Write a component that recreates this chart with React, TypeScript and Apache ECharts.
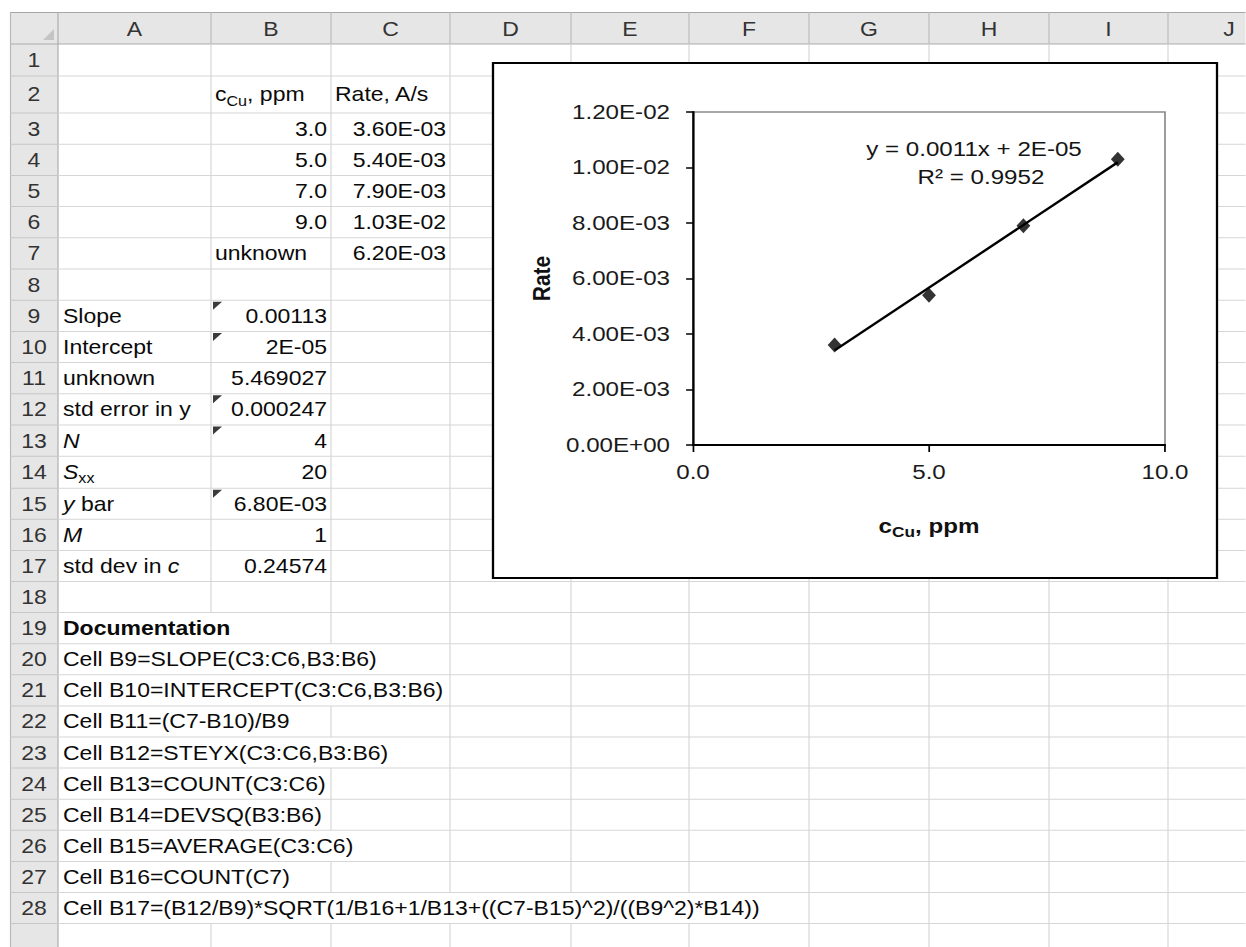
import React, { useEffect, useRef } from "react";
import * as echarts from "echarts";

// ---------- data ----------
const concentrationPpm = [3.0, 5.0, 7.0, 9.0];
const rateAperS = [0.0036, 0.0054, 0.0079, 0.0103];
const trendX = [3, 9];
const trendY = [0.00341, 0.01019];
const trendEquation = "y = 0.0011x + 2E-05";
const trendR2 = "R² = 0.9952";
const yMin = 0, yMax = 0.012, yStep = 0.002;
const xMin = 0, xMax = 10, xStep = 5;

const columnLetters = ["A", "B", "C", "D", "E", "F", "G", "H", "I", "J"];
const tableB = ["3.0", "5.0", "7.0", "9.0", "unknown"];
const tableC = ["3.60E-03", "5.40E-03", "7.90E-03", "1.03E-02", "6.20E-03"];
const statLabels = ["Slope", "Intercept", "unknown", "std error in y", "{i|N}", "{i|S}{s|xx}", "{i|y} bar", "{i|M}", "std dev in {i|c}"];
const statValues = ["0.00113", "2E-05", "5.469027", "0.000247", "4", "20", "6.80E-03", "1", "0.24574"];
const statFlagged = [true, true, false, true, true, false, true, false, false];
const docTitle = "Documentation";
const docLines = [
  "Cell B9=SLOPE(C3:C6,B3:B6)",
  "Cell B10=INTERCEPT(C3:C6,B3:B6)",
  "Cell B11=(C7-B10)/B9",
  "Cell B12=STEYX(C3:C6,B3:B6)",
  "Cell B13=COUNT(C3:C6)",
  "Cell B14=DEVSQ(B3:B6)",
  "Cell B15=AVERAGE(C3:C6)",
  "Cell B16=COUNT(C7)",
  "Cell B17=(B12/B9)*SQRT(1/B16+1/B13+((C7-B15)^2)/((B9^2)*B14))",
];

// ---------- layout ----------
const W = 1246, H = 947;
const S = 1.15; // horizontal stretch of the screenshot
const X = (x: number) => x / S;
const FONT = "'Liberation Sans', Arial, Helvetica, sans-serif";
const colEdges = [58, 211, 331, 450, 571, 689, 809, 929, 1049, 1168, 1290];
const rowHeights: number[] = [32, 37];
for (let i = 0; i < 11; i++) rowHeights.push(31.2);
rowHeights.push(32);
for (let i = 0; i < 15; i++) rowHeights.push(31.1);
const rowTops: number[] = [];
{
  let y = 44;
  for (const h of rowHeights) { rowTops.push(y); y += h; }
}
const rowTop = (r: number) => rowTops[r - 1];
const rowMid = (r: number) => rowTops[r - 1] + rowHeights[r - 1] / 2;
const rowBottom = (r: number) => rowTops[r - 1] + rowHeights[r - 1];

const sci = (v: number) => {
  const [m, e] = v.toExponential(2).split("e");
  const sign = e[0] === "-" ? "-" : "+";
  const d = e.replace(/[+-]/, "").padStart(2, "0");
  return `${m}E${sign}${d}`;
};

function buildOption() {
  const ctx = document.createElement("canvas").getContext("2d")!;
  const measure = (t: string, font: string) => { ctx.font = font; return ctx.measureText(t).width * S; };

  const els: any[] = [];
  const line = (x1: number, y1: number, x2: number, y2: number, stroke: string, lw = 1, z = -3) =>
    els.push({ type: "line", silent: true, z, shape: { x1: X(x1), y1, x2: X(x2), y2 }, style: { stroke, lineWidth: lw } });
  const rect = (x: number, y: number, w: number, h: number, fill: string, z = -4, extra: any = {}) =>
    els.push({ type: "rect", silent: true, z, shape: { x: X(x), y, width: w / S, height: h }, style: { fill, ...extra } });
  const rich = {
    i: { fontStyle: "italic", fontSize: 20, fontFamily: FONT, fill: "#0a0a0a", lineHeight: 26 },
    n: { fontSize: 20, fontFamily: FONT, fill: "#0a0a0a", lineHeight: 26 },
    s: { fontSize: 14, fontFamily: FONT, fill: "#0a0a0a", verticalAlign: "bottom", lineHeight: 14 },
  };
  const txt = (x: number, y: number, text: string, align: string, extra: any = {}) =>
    els.push({
      type: "text", silent: true, z: -2, x: X(x), y,
      style: { text, fontFamily: FONT, fontSize: 20, fill: "#0a0a0a", align, verticalAlign: "middle", rich, ...extra },
    });

  // header row and row-number column
  rect(10, 12, W - 10, 32, "#e6e6e6");
  rect(10, 44, 48, H - 44, "#e6e6e6");
  line(10, 12.5, W, 12.5, "#a6a6a6");
  line(10, 44, W, 44, "#acacac");
  line(10.5, 12, 10.5, H, "#b8b8b8");
  line(58, 12, 58, H, "#acacac");
  els.push({ type: "polygon", silent: true, z: -2, shape: { points: [[X(54), 29], [X(54), 40], [X(43), 40]] }, style: { fill: "#c4c4c4" } });
  colEdges.slice(1).forEach((b) => line(b, 12, b, 44, "#bcbcbc"));
  columnLetters.forEach((c, i) => {
    const cx = (colEdges[i] + colEdges[i + 1]) / 2;
    txt(cx, 29, c, "center", { fill: "#333" });
  });
  for (let r = 1; r <= rowHeights.length; r++) {
    line(10, rowBottom(r), 58, rowBottom(r), "#c6c6c6");
    if (r <= 28) txt(34, rowMid(r), String(r), "center", { fill: "#333" });
  }

  // cell texts
  const A_X = 63;
  const rightOf = (col: number) => colEdges[col + 1] - 4;
  const leftOf = (col: number) => colEdges[col] + 4;
  txt(leftOf(1), rowMid(2), "{n|c}{s|Cu}{n|, ppm}", "left");
  txt(leftOf(2), rowMid(2), "Rate, A/s", "left");
  tableB.forEach((v, i) => {
    const r = 3 + i;
    if (isNaN(Number(v))) txt(leftOf(1), rowMid(r), v, "left");
    else txt(rightOf(1), rowMid(r), v, "right");
    txt(rightOf(2), rowMid(r), tableC[i], "right");
  });
  statLabels.forEach((l, i) => {
    const r = 9 + i;
    txt(A_X, rowMid(r), l, "left");
    txt(rightOf(1), rowMid(r), statValues[i], "right");
    if (statFlagged[i]) {
      const t = rowTop(r);
      els.push({ type: "polygon", silent: true, z: -2, shape: { points: [[X(213), t + 1.5], [X(222), t + 1.5], [X(213), t + 9.5]] }, style: { fill: "#3a3a3a" } });
    }
  });
  txt(A_X, rowMid(19), docTitle, "left", { fontWeight: "bold" });
  docLines.forEach((l, i) => txt(A_X, rowMid(20 + i), l, "left"));

  // text overflow per row (hides vertical gridlines under it)
  const overflowEnd: Record<number, number> = {};
  overflowEnd[19] = A_X + measure(docTitle, `bold 20px ${FONT}`);
  docLines.forEach((l, i) => { overflowEnd[20 + i] = A_X + measure(l, `20px ${FONT}`); });

  // cell gridlines
  for (let r = 1; r <= rowHeights.length; r++) line(58, rowBottom(r), W, rowBottom(r), "#d6d6d6");
  colEdges.slice(1, -1).forEach((b) => {
    let segStart: number | null = null;
    for (let r = 1; r <= rowHeights.length; r++) {
      const hidden = overflowEnd[r] !== undefined && overflowEnd[r] > b - 1;
      if (!hidden && segStart === null) segStart = rowTop(r);
      if (hidden && segStart !== null) { line(b, segStart, b, rowTop(r), "#d6d6d6"); segStart = null; }
    }
    if (segStart !== null) line(b, segStart, b, H, "#d6d6d6");
  });

  // chart box
  rect(493, 63, 724, 515, "#ffffff", -1, { stroke: "#000", lineWidth: 2 });

  // trendline label
  els.push({ type: "text", silent: true, z: 10, x: X(974), y: 149, style: { text: trendEquation, fontFamily: FONT, fontSize: 21, fill: "#151515", align: "center", verticalAlign: "middle" } });
  els.push({ type: "text", silent: true, z: 10, x: X(981), y: 177, style: { text: trendR2, fontFamily: FONT, fontSize: 21, fill: "#151515", align: "center", verticalAlign: "middle" } });

  const axisLineStyle = { color: "#000", width: 2 };
  return {
    animation: false,
    backgroundColor: "#ffffff",
    textStyle: { fontFamily: FONT },
    graphic: { elements: els },
    grid: {
      left: X(693), top: 112, width: X(1165) - X(693), height: 445 - 112,
      show: true, borderColor: "#8c8c8c", borderWidth: 1.5, backgroundColor: "transparent",
      containLabel: false, outerBoundsMode: "none",
    },
    xAxis: {
      type: "value", min: xMin, max: xMax, interval: xStep, z: 3,
      axisLine: { show: true, onZero: false, lineStyle: axisLineStyle },
      axisTick: { show: true, inside: false, length: 7, lineStyle: { color: "#000", width: 1.5 } },
      axisLabel: { formatter: (v: number) => v.toFixed(1), fontSize: 21, color: "#1a1a1a", margin: 17, fontFamily: FONT },
      splitLine: { show: false },
      name: "{b|c}{s|Cu}{b|, ppm}",
      nameLocation: "middle", nameGap: 68,
      nameTextStyle: {
        fontSize: 21, fontWeight: "bold", color: "#111", fontFamily: FONT,
        rich: {
          b: { fontSize: 21, fontWeight: "bold", color: "#111", fontFamily: FONT, lineHeight: 26 },
          s: { fontSize: 15, fontWeight: "bold", color: "#111", fontFamily: FONT, verticalAlign: "bottom", lineHeight: 15 },
        },
      },
    },
    yAxis: {
      type: "value", min: yMin, max: yMax, interval: yStep, z: 3,
      axisLine: { show: true, onZero: false, lineStyle: axisLineStyle },
      axisTick: { show: true, inside: false, length: 6, lineStyle: { color: "#000", width: 1.5 } },
      axisLabel: { formatter: sci, fontSize: 21, color: "#1a1a1a", margin: 20, fontFamily: FONT },
      splitLine: { show: false },
      name: "Rate", nameLocation: "middle", nameRotate: 90, nameGap: 121,
      nameTextStyle: { fontSize: 21, fontWeight: "bold", color: "#111", fontFamily: FONT },
    },
    series: [
      {
        type: "line", data: trendX.map((x, i) => [x, trendY[i]]), symbol: "none", z: 4,
        lineStyle: { color: "#000", width: 2.3 }, silent: true,
      },
      {
        type: "scatter", data: concentrationPpm.map((x, i) => [x, rateAperS[i]]),
        symbol: "diamond", symbolSize: [12, 15], z: 5,
        itemStyle: { color: "#000" },
      },
    ],
  };
}

export default function App() {
  const ref = useRef<HTMLDivElement>(null);
  useEffect(() => {
    const chart = echarts.init(ref.current!, null, { renderer: "svg" });
    chart.setOption(buildOption() as any);
    return () => chart.dispose();
  }, []);
  return (
    <div style={{ position: "fixed", left: 0, top: 0, width: W, height: H, overflow: "hidden", background: "#fff" }}>
      <div ref={ref} style={{ width: W / S, height: H, transform: `scaleX(${S})`, transformOrigin: "0 0" }} />
    </div>
  );
}
